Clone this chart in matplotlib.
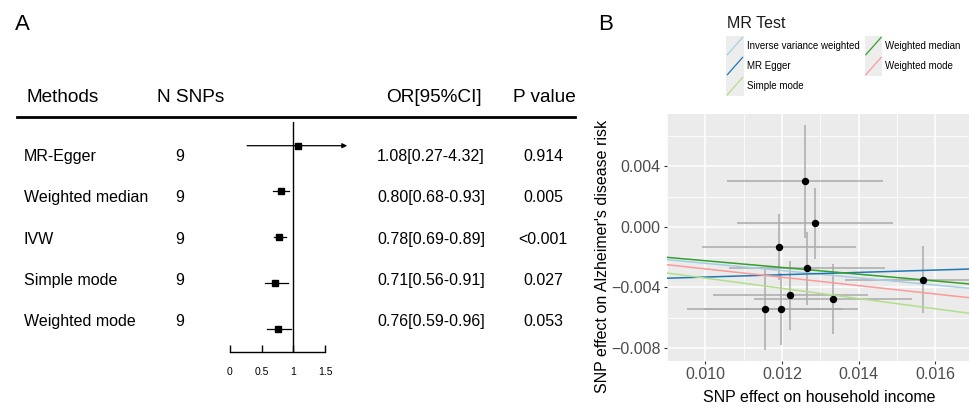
import numpy as np
import matplotlib.pyplot as plt
from matplotlib.lines import Line2D
from matplotlib.patches import Rectangle
from matplotlib.legend_handler import HandlerBase

W, H = 970, 409


def fx(px):
    return px / W


def fy(py):
    return 1 - py / H


# --------------------------------------------------
# Panel A data (forest plot)
# --------------------------------------------------
methods = ["MR-Egger", "Weighted median", "IVW", "Simple mode", "Weighted mode"]
n_snps = [9, 9, 9, 9, 9]
or_est = [1.08, 0.80, 0.78, 0.71, 0.76]
or_lo = [0.27, 0.68, 0.69, 0.56, 0.59]
or_hi = [4.32, 0.93, 0.89, 0.91, 0.96]
p_text = ["0.914", "0.005", "<0.001", "0.027", "0.053"]

# --------------------------------------------------
# Panel B data (scatter of SNP effects)
# --------------------------------------------------
snp_x = [0.01259, 0.01286, 0.01192, 0.01265, 0.01221, 0.01333, 0.01156, 0.01198, 0.01567]
snp_y = [0.00302, 0.00024, -0.00133, -0.00274, -0.00451, -0.00477, -0.00544, -0.00541, -0.00349]
snp_x_se = [0.00203, 0.00203, 0.00202, 0.00203, 0.00202, 0.00207, 0.00204, 0.00201, 0.00203]
snp_y_se = [0.00373, 0.00233, 0.00217, 0.00240, 0.00227, 0.00232, 0.00266, 0.00239, 0.00221]

line_names = ["Inverse variance weighted", "MR Egger", "Simple mode",
              "Weighted median", "Weighted mode"]
line_slope = [-0.240, 0.077, -0.338, -0.223, -0.277]
line_icept = [0.0, -0.00408, 0.0, 0.0, 0.0]
line_color = ["#A6CEE3", "#1F78B4", "#B2DF8A", "#33A02C", "#FB9A99"]

plt.rcParams["font.family"] = ["Liberation Sans", "DejaVu Sans"]

fig = plt.figure(figsize=(9.7, 4.09), dpi=100)

# --------------------------------------------------
# Panel A
# --------------------------------------------------
fig.text(fx(22), fy(25), "A", fontsize=16, ha="center", va="center")

head_y = 102
fig.text(fx(27), fy(head_y), "Methods", fontsize=13.7, va="baseline")
fig.text(fx(157), fy(head_y), "N SNPs", fontsize=13.7, va="baseline")
fig.text(fx(386), fy(head_y), "OR[95%CI]", fontsize=13.7, va="baseline")
fig.text(fx(513), fy(head_y), "P value", fontsize=13.7, va="baseline")
fig.add_artist(Line2D([fx(17), fx(575)], [fy(117), fy(117)],
                      color="black", lw=2))

row_fs = 11.5
row_base = [161, 202, 244, 285, 326]
for i, yb in enumerate(row_base):
    fig.text(fx(24), fy(yb), methods[i], fontsize=row_fs, va="baseline")
    fig.text(fx(180), fy(yb), str(n_snps[i]), fontsize=row_fs,
             va="baseline", ha="center")
    ci = "%.2f[%.2f-%.2f]" % (or_est[i], or_lo[i], or_hi[i])
    fig.text(fx(431), fy(yb), ci, fontsize=row_fs, va="baseline",
             ha="center")
    fig.text(fx(543), fy(yb), p_text[i], fontsize=row_fs,
             va="baseline", ha="center")

# forest axes: OR 0 at x=230px, 1.5 at x=325px; rows every 45.75px
ax_f = fig.add_axes([fx(230), fy(352), 95 / W, 230 / H])
ax_f.set_xlim(0, 1.5)
ax_f.set_ylim(4.509, -0.518)
ax_f.patch.set_alpha(0)
ax_f.axvline(1, color="black", lw=1)
x_cap = 1.85
for i in range(len(methods)):
    if or_hi[i] > x_cap:
        ax_f.annotate("", xy=(x_cap, i), xytext=(or_lo[i], i),
                      annotation_clip=False,
                      arrowprops=dict(arrowstyle="-|>", color="black",
                                      lw=0.9, mutation_scale=7,
                                      shrinkA=0, shrinkB=0))
    else:
        ax_f.plot([or_lo[i], or_hi[i]], [i, i], color="black", lw=0.9,
                  clip_on=False)
    ax_f.plot(or_est[i], i, marker="s", color="black", ms=4.5,
              clip_on=False)
for side in ["top", "right", "left"]:
    ax_f.spines[side].set_visible(False)
ax_f.spines["bottom"].set_bounds(0, 1.5)
ax_f.spines["bottom"].set_linewidth(1)
ax_f.set_yticks([])
ax_f.set_xticks([0, 0.5, 1, 1.5])
ax_f.set_xticklabels(["0", "0.5", "1", "1.5"])
ax_f.tick_params(axis="x", direction="in", length=5, width=1,
                 labelsize=7.5, pad=11)

# --------------------------------------------------
# Panel B
# --------------------------------------------------
fig.text(fx(606), fy(24), "B", fontsize=16, ha="center", va="center")

ax = fig.add_axes([fx(667), fy(361), (970 - 667) / W, (361 - 114) / H])
ax.set_facecolor("#EBEBEB")
for side in ax.spines:
    ax.spines[side].set_visible(False)
ax.set_xlim(0.009108, 0.0169)
ax.set_ylim(-0.00886, 0.00747)
ax.set_xticks([0.010, 0.012, 0.014, 0.016])
ax.set_xticklabels(["0.010", "0.012", "0.014", "0.016"])
ax.set_yticks([-0.008, -0.004, 0.0, 0.004])
ax.set_yticklabels(["\u22120.008", "\u22120.004", "0.000", "0.004"])
ax.set_xticks([0.009, 0.011, 0.013, 0.015], minor=True)
ax.set_yticks([-0.006, -0.002, 0.002, 0.006], minor=True)
ax.grid(which="major", color="white", lw=1.1)
ax.grid(which="minor", color="white", lw=0.55)
ax.set_axisbelow(True)
ax.tick_params(which="major", length=2.5, width=0.8, color="#333333",
               labelcolor="#4D4D4D", labelsize=11.5, pad=2)
ax.tick_params(which="minor", length=0)

ax.errorbar(snp_x, snp_y, xerr=snp_x_se, yerr=snp_y_se, fmt="none",
            ecolor="#ABABAB", elinewidth=1.1, capsize=0, zorder=2)
handles = []
for name, b, a, c in zip(line_names, line_slope, line_icept, line_color):
    ax.axline((0, a), slope=b, color=c, lw=1.1, zorder=3)
    handles.append(Line2D([], [], color=c, lw=1.1, label=name))
ax.plot(snp_x, snp_y, "o", color="black", ms=4.3, zorder=4)

fig.text(fx(819), fy(401.5), "SNP effect on household income",
         fontsize=11.5, ha="center", va="baseline")
fig.text(fx(603), fy(256), "SNP effect on Alzheimer's disease risk",
         fontsize=11.5, ha="center", va="center", rotation=90)


class DiagonalKey(HandlerBase):
    def create_artists(self, legend, orig_handle, xdescent, ydescent,
                       width, height, fontsize, trans):
        bg = Rectangle((-xdescent, -ydescent), width, height,
                       facecolor="#EDEDED", edgecolor="none",
                       transform=trans)
        ln = Line2D([-xdescent + 1, -xdescent + width - 1],
                    [-ydescent + 1, -ydescent + height - 1],
                    color=orig_handle.get_color(), lw=0.9,
                    transform=trans)
        return [bg, ln]


fig.text(fx(727), fy(28.3), "MR Test", fontsize=11.5, color="#1A1A1A",
         va="baseline")
leg = ax.legend(handles=handles, loc="upper left",
                bbox_to_anchor=(fx(726), fy(36)),
                bbox_transform=fig.transFigure, ncol=2, frameon=False,
                fontsize=7.0, handlelength=1.85, handleheight=2.79,
                labelspacing=0, handletextpad=0.3,
                columnspacing=0.5, borderpad=0, borderaxespad=0,
                handler_map={Line2D: DiagonalKey()})

fig.savefig("out.png", dpi=100)
